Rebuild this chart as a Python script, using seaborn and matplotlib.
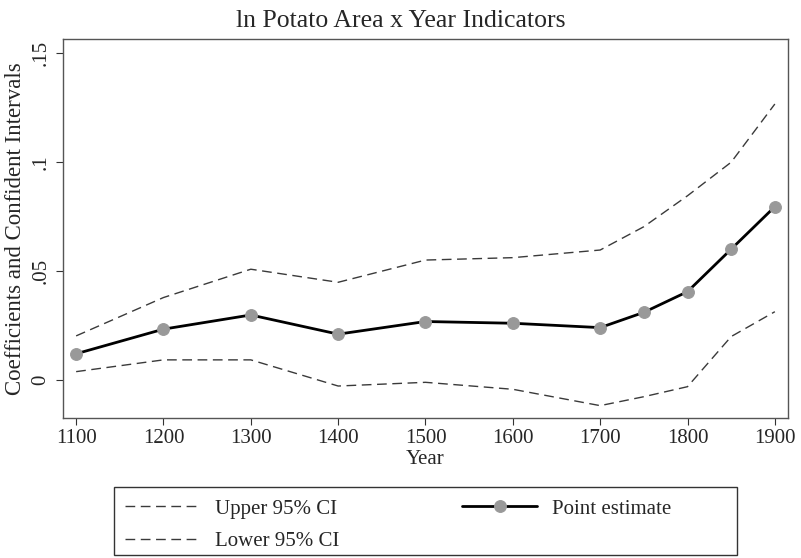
import matplotlib.pyplot as plt
from matplotlib.patches import Rectangle
import seaborn as sns
import pandas as pd

years = [1100, 1200, 1300, 1400, 1500, 1600, 1700, 1750, 1800, 1850, 1900]
point = [0.012, 0.0233, 0.0298, 0.021, 0.0268, 0.026, 0.024, 0.031, 0.0405, 0.060, 0.0795]
upper = [0.0202, 0.0378, 0.0508, 0.0448, 0.055, 0.0561, 0.0596, 0.0703, 0.0845, 0.0999, 0.1266]
lower = [0.0038, 0.0092, 0.0092, -0.0028, -0.0011, -0.0043, -0.0118, -0.0077, -0.0031, 0.0199, 0.0313]
ytick_vals = [0, 0.05, 0.1, 0.15]
ytick_labels = ['0', '.05', '.1', '.15']

df = pd.DataFrame({'Year': years, 'point': point, 'upper': upper, 'lower': lower})

sns.set_style('ticks')
plt.rcParams['font.family'] = ['Liberation Serif', 'DejaVu Serif']

fig = plt.figure(figsize=(8.01, 5.58), dpi=100)
ax = fig.add_axes([0.0787, 0.2504, 0.905, 0.6792])

sns.lineplot(data=df, x='Year', y='upper', ax=ax, color='#3a3a3a', lw=1.0,
             linestyle=(0, (7, 4)), label='Upper 95% CI')
sns.lineplot(data=df, x='Year', y='lower', ax=ax, color='#3a3a3a', lw=1.0,
             linestyle=(0, (7, 4)), label='Lower 95% CI')
sns.lineplot(data=df, x='Year', y='point', ax=ax, color='black', lw=2.0,
             marker='o', markersize=8.5, markerfacecolor='#999999',
             markeredgecolor='#999999', label='Point estimate')

ax.set_xlim(1085, 1915)
ax.set_ylim(-0.0176, 0.1563)
ax.set_xticks(range(1100, 2000, 100))
ax.set_yticks(ytick_vals)
ax.set_yticklabels(ytick_labels, rotation=90, va='center')
ax.tick_params(axis='both', labelsize=15, length=5, width=0.8, color='#333333')
ax.tick_params(axis='x', pad=3)
ax.tick_params(axis='y', pad=4)

for s in ax.spines.values():
    s.set_visible(True)
    s.set_color('#555555')
    s.set_linewidth(1.0)

ax.set_xlabel('Year', fontsize=15, labelpad=1)
ax.set_ylabel('Coefficients and Confident Intervals', fontsize=16.5, labelpad=4)
fig.text(0.5, 1 - 27 / 558, 'ln Potato Area x Year Indicators', fontsize=18.5,
         ha='center', va='baseline')

# legend box spans wider than its entries, so draw the frame on its own
fig.patches.append(Rectangle((114 / 801, 1 - 555 / 558), 623 / 801, 68 / 558,
                             transform=fig.transFigure, fill=False,
                             edgecolor='#333333', lw=1.0))
ax.legend(loc='upper left', bbox_to_anchor=(125 / 801, 1 - 499 / 558),
          bbox_transform=fig.transFigure, ncol=2, fontsize=15, frameon=False,
          borderpad=0, borderaxespad=0, handlelength=3.6, handletextpad=0.72,
          columnspacing=5.9, labelspacing=0.62)

fig.savefig('out.png', dpi=100)
